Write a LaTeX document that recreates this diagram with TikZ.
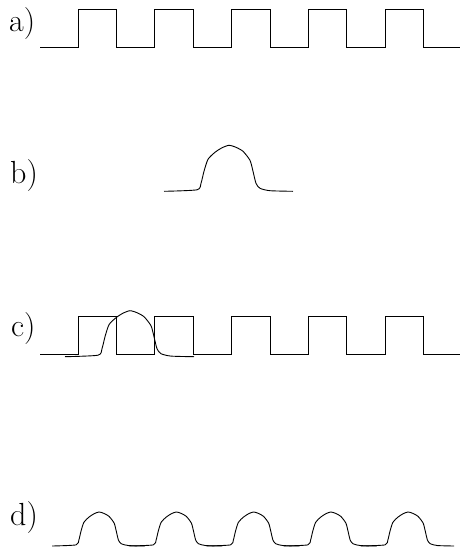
\documentclass[tikz,border=0pt]{standalone}
\usepackage{tikz}

\tikzset{
  wave/.style={line width=0.9pt, line join=miter},
  lbl/.style={anchor=base west, inner sep=0pt, font=\fontsize{32}{38}\selectfont},
  pulse/.pic={
    \draw[wave] plot[smooth, tension=0.4] coordinates {(-65,0) (-32,-1.5) (-28,-8)
      (-25,-20) (-21,-32) (-14,-39) (-7,-43.5) (0,-46) (7,-44) (14,-40) (21,-31)
      (24,-20) (27,-8) (31,-3) (41,-0.6) (64,0)};
  }
}

\begin{document}
\begin{tikzpicture}[x=1pt, y=-1pt]
  \useasboundingbox (0,0) rectangle (461,552);

  \node[lbl] (la) at (9,31) {a)};
  \node[lbl] (lb) at (10,183) {b)};
  \node[lbl] (lc) at (11,336) {c)};
  \node[lbl] (ld) at (10,525) {d)};

  \draw[wave] (40,47) foreach \k in {0,...,4} {
      -- ({78+76.75*\k},47) -- ({78+76.75*\k},9.5)
      -- ({116.5+76.75*\k},9.5) -- ({116.5+76.75*\k},47) } -- (460,47);

  \pic at (229,191.3) {pulse};

  \draw[wave] (40,354.3) foreach \k in {0,...,4} {
      -- ({78+76.75*\k},354.3) -- ({78+76.75*\k},316)
      -- ({116.5+76.75*\k},316) -- ({116.5+76.75*\k},354.3) } -- (460,354.3);
  \pic at (130,356.7) {pulse};

  \foreach \k in {0,...,4}
    \pic[xscale=0.72, yscale=0.74] at ({99+77.25*\k},546) {pulse};
\end{tikzpicture}
\end{document}
